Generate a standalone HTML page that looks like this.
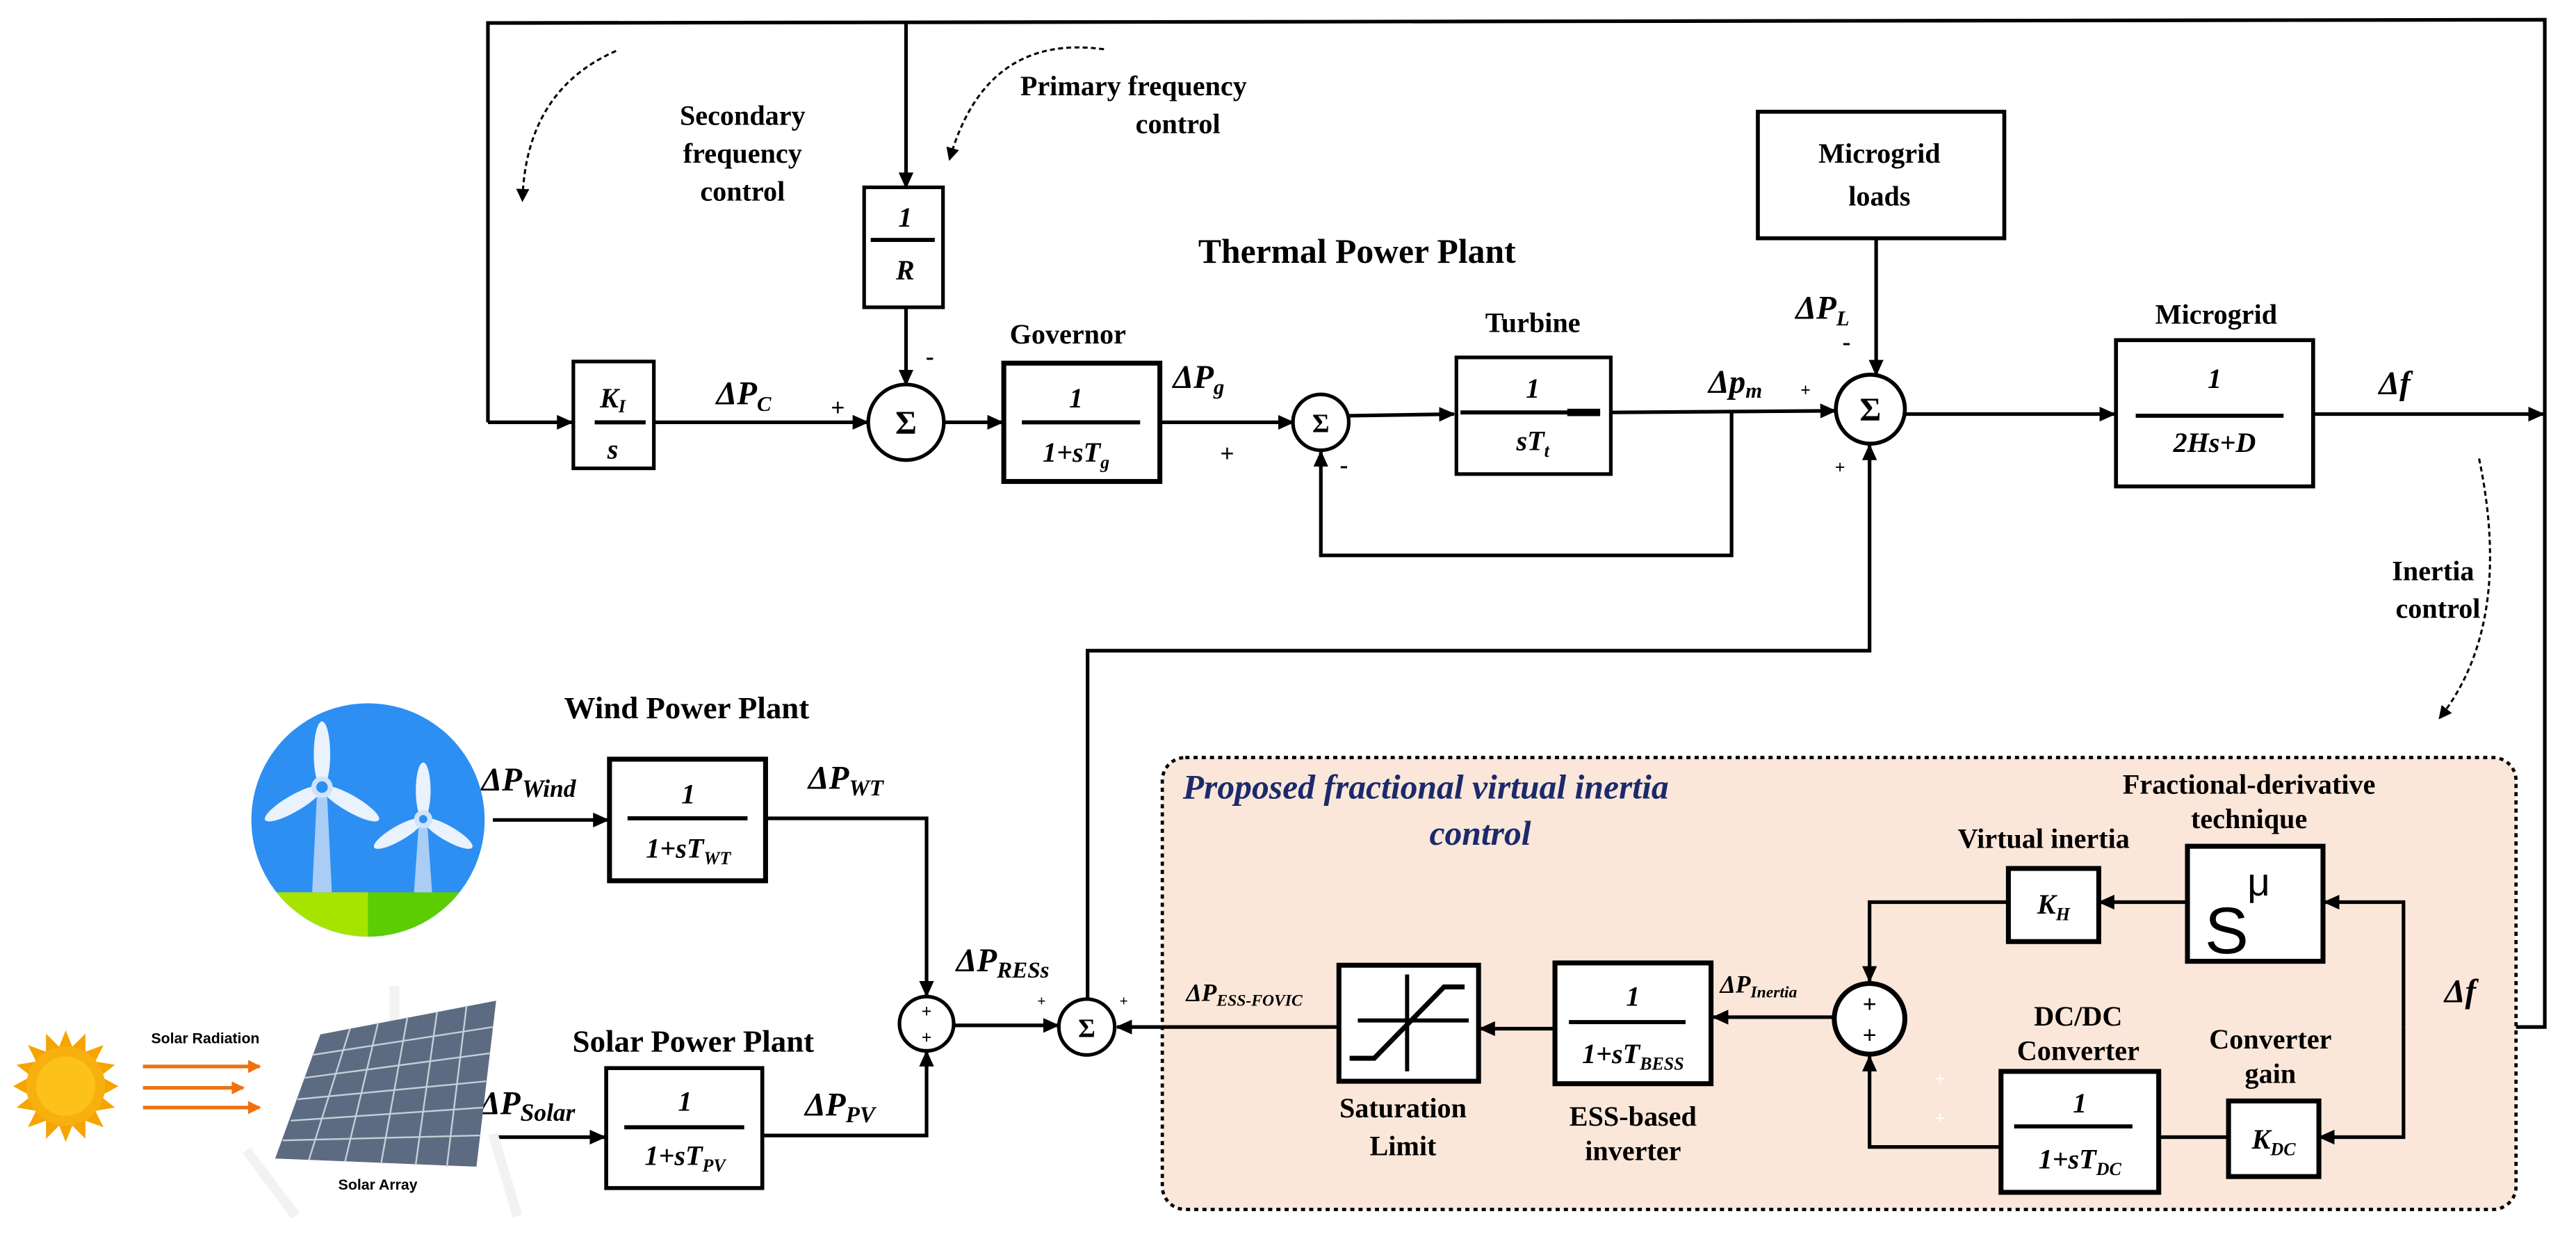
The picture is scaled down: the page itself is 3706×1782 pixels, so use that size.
<!DOCTYPE html>
<html><head><meta charset="utf-8">
<style>
html,body{margin:0;padding:0;background:#fff;}
svg{display:block;}
text{font-family:"Liberation Serif",serif;font-weight:bold;}
.lb{font-size:17px;}
.it{font-style:italic;}
</style></head>
<body>
<svg width="3706" height="1782" viewBox="0 0 1568 754" preserveAspectRatio="none" xmlns="http://www.w3.org/2000/svg">
<defs>
<marker id="a" markerWidth="10" markerHeight="10" refX="9" refY="5" orient="auto" markerUnits="userSpaceOnUse"><path d="M0,0.5 L10,5 L0,9.5 z" fill="#000"/></marker>
<marker id="s" markerWidth="8" markerHeight="8" refX="7" refY="4" orient="auto" markerUnits="userSpaceOnUse"><path d="M0,0 L8,4 L0,8 z" fill="#000"/></marker>
<marker id="o" markerWidth="8" markerHeight="8" refX="7" refY="4" orient="auto" markerUnits="userSpaceOnUse"><path d="M0,0 L8,4 L0,8 z" fill="#f07010"/></marker>
<clipPath id="wc"><circle cx="224" cy="499" r="71"/></clipPath>
</defs>

<g stroke="#000" stroke-width="2.2" fill="none">
<polyline points="297,257 297,14 1549,12 1549,625 1466,625" marker-end="url(#a)"/>
<line x1="297" y1="257" x2="348" y2="257" marker-end="url(#a)"/>
<line x1="551.5" y1="14" x2="551.5" y2="114" marker-end="url(#a)"/>
<line x1="551.5" y1="188" x2="551.5" y2="234" marker-end="url(#a)"/>
<line x1="398" y1="257" x2="528" y2="257" marker-end="url(#a)"/>
<line x1="575" y1="257" x2="610" y2="257" marker-end="url(#a)"/>
<line x1="706" y1="257" x2="787" y2="257" marker-end="url(#a)"/>
<line x1="821" y1="253" x2="885" y2="252" marker-end="url(#a)"/>
<line x1="980" y1="251" x2="1117" y2="250" marker-end="url(#a)"/>
<polyline points="1054,251 1054,338 804,338 804,275" marker-end="url(#a)"/>
<line x1="1142" y1="145" x2="1142" y2="228" marker-end="url(#a)"/>
<line x1="1159" y1="252" x2="1287" y2="252" marker-end="url(#a)"/>
<line x1="1409" y1="252" x2="1548" y2="252" marker-end="url(#a)"/>
<polyline points="662,608 662,396 1138,396 1138,271" marker-end="url(#a)"/>
<line x1="300" y1="499" x2="370" y2="499" marker-end="url(#a)"/>
<polyline points="466,498 564,498 564,606" marker-end="url(#a)"/>
<line x1="298" y1="692" x2="368" y2="692" marker-end="url(#a)"/>
<polyline points="464,691 564,691 564,640" marker-end="url(#a)"/>
<line x1="581" y1="624" x2="644" y2="624" marker-end="url(#a)"/>
</g>

<rect x="707.5" y="461" width="824" height="275" rx="14" fill="#fbe7d9" stroke="#000" stroke-width="2" stroke-dasharray="2.5,2.5"/>

<g stroke="#000" stroke-width="2.2" fill="none">
<line x1="815" y1="625" x2="680" y2="625" marker-end="url(#a)"/>
<polyline points="1463,625 1463,549 1415,549" marker-end="url(#a)"/>
<polyline points="1463,625 1463,692 1412,692" marker-end="url(#a)"/>
<line x1="1331" y1="549" x2="1278" y2="549" marker-end="url(#a)"/>
<polyline points="1222,549 1138,549 1138,597" marker-end="url(#a)"/>
<line x1="1356" y1="692" x2="1314" y2="692"/>
<polyline points="1218,698 1138,698 1138,643" marker-end="url(#a)"/>
<line x1="1117" y1="619" x2="1043" y2="619" marker-end="url(#a)"/>
<line x1="946" y1="626" x2="901" y2="626" marker-end="url(#a)"/>
</g>

<g stroke="#000" stroke-width="1.3" fill="none" stroke-dasharray="3,2">
<path d="M375,31 Q320,55 318,122" marker-end="url(#s)"/>
<path d="M672,30 Q600,20 578,97" marker-end="url(#s)"/>
<path d="M1509,279 Q1530,380 1485,437" marker-end="url(#s)"/>
</g>

<g stroke="#000" fill="#fff">
<rect x="349" y="220" width="49" height="65" stroke-width="2.2"/>
<rect x="526" y="114" width="48" height="73" stroke-width="2.2"/>
<rect x="611" y="221" width="95" height="72" stroke-width="3"/>
<rect x="886.5" y="217.5" width="94" height="71" stroke-width="2.2"/>
<rect x="1070" y="68" width="150" height="77" stroke-width="2.4"/>
<rect x="1288" y="207" width="120" height="89" stroke-width="2.4"/>
<rect x="371" y="462" width="95" height="74" stroke-width="3"/>
<rect x="369" y="650" width="95" height="73" stroke-width="2.4"/>
<rect x="1331.5" y="515" width="82.5" height="70" stroke-width="3"/>
<rect x="1222.5" y="528.5" width="55" height="44.5" stroke-width="3"/>
<rect x="1218" y="652" width="96" height="73.6" stroke-width="3"/>
<rect x="1356.5" y="670" width="55" height="46" stroke-width="3"/>
<rect x="946.5" y="586" width="95" height="73.5" stroke-width="3"/>
<rect x="815" y="587.4" width="85" height="70.6" stroke-width="3"/>
<circle cx="551.5" cy="257" r="23" stroke-width="2.2"/>
<circle cx="804" cy="257" r="17" stroke-width="2.2"/>
<circle cx="1138.5" cy="249" r="21" stroke-width="2.4"/>
<circle cx="564" cy="623" r="16.5" stroke-width="2.2"/>
<circle cx="661.5" cy="625" r="17" stroke-width="2.2"/>
<circle cx="1138" cy="620" r="21.5" stroke-width="3"/>
</g>
<g stroke="#000" stroke-width="2.5">
<line x1="362" y1="257" x2="393" y2="257"/>
<line x1="530" y1="146" x2="569" y2="146"/>
<line x1="622" y1="257" x2="694" y2="257"/>
<line x1="889" y1="251" x2="974" y2="251"/>
<line x1="954" y1="251" x2="974" y2="251" stroke-width="4.5"/>
<line x1="1300" y1="253" x2="1390" y2="253"/>
<line x1="382" y1="498" x2="455" y2="498"/>
<line x1="380" y1="686" x2="453" y2="686"/>
<line x1="1226" y1="685.5" x2="1298" y2="685.5"/>
<line x1="955" y1="622" x2="1026" y2="622"/>
<line x1="826.5" y1="621" x2="894" y2="621"/>
<line x1="856.5" y1="593" x2="856.5" y2="652"/>
<polyline points="821.5,644 836.5,644 879,600.6 891.5,600.6" fill="none" stroke-width="3"/>
</g>

<g class="lb" text-anchor="middle" fill="#000">
<text x="452" y="76">Secondary</text>
<text x="452" y="99">frequency</text>
<text x="452" y="122">control</text>
<text x="690" y="58">Primary frequency</text>
<text x="717" y="81">control</text>
<text x="826" y="160" style="font-size:21px">Thermal Power Plant</text>
<text x="650" y="209">Governor</text>
<text x="933" y="202">Turbine</text>
<text x="1144" y="99">Microgrid</text>
<text x="1144" y="125">loads</text>
<text x="1349" y="197">Microgrid</text>
<text x="1481" y="353">Inertia</text>
<text x="1484" y="376">control</text>
<text x="418" y="437" style="font-size:19px">Wind Power Plant</text>
<text x="422" y="640" style="font-size:19px">Solar Power Plant</text>
<text x="1369" y="483">Fractional-derivative</text>
<text x="1369" y="504">technique</text>
<text x="1244" y="516">Virtual inertia</text>
<text x="1265" y="624">DC/DC</text>
<text x="1265" y="645">Converter</text>
<text x="1382" y="638">Converter</text>
<text x="1382" y="659">gain</text>
<text x="854" y="680">Saturation</text>
<text x="854" y="703">Limit</text>
<text x="994" y="685">ESS-based</text>
<text x="994" y="706">inverter</text>
</g>

<g class="lb it" text-anchor="middle" fill="#000">
<text x="373" y="248">K<tspan font-size="11" dy="3">I</tspan></text>
<text x="373" y="279">s</text>
<text x="551" y="138">1</text>
<text x="551" y="170">R</text>
<text x="655" y="248">1</text>
<text x="655" y="281">1+sT<tspan font-size="11" dy="4">g</tspan></text>
<text x="933" y="242">1</text>
<text x="933" y="274">sT<tspan font-size="11" dy="4">t</tspan></text>
<text x="1348" y="236">1</text>
<text x="1348" y="275">2Hs+D</text>
<text x="419" y="489">1</text>
<text x="419" y="522">1+sT<tspan font-size="11" dy="4">WT</tspan></text>
<text x="417" y="676">1</text>
<text x="417" y="709">1+sT<tspan font-size="11" dy="4">PV</tspan></text>
<text x="994" y="612">1</text>
<text x="994" y="647">1+sT<tspan font-size="11" dy="4">BESS</tspan></text>
<text x="1266" y="677">1</text>
<text x="1266" y="711">1+sT<tspan font-size="11" dy="4">DC</tspan></text>
<text x="1250" y="556">K<tspan font-size="11" dy="4">H</tspan></text>
<text x="1384" y="699">K<tspan font-size="11" dy="4">DC</tspan></text>
</g>
<text x="1342" y="580" style="font-family:'Liberation Sans',sans-serif;font-weight:normal;font-size:40px" fill="#000">S</text>
<text x="1368" y="545" style="font-family:'Liberation Sans',sans-serif;font-weight:normal;font-size:24px" fill="#000">μ</text>
<text x="551.5" y="264" text-anchor="middle" style="font-size:20px">Σ</text>
<text x="804" y="263" text-anchor="middle" style="font-size:16px">Σ</text>
<text x="1138.5" y="256" text-anchor="middle" style="font-size:20px">Σ</text>
<text x="661.5" y="631" text-anchor="middle" style="font-size:16px">Σ</text>
<g style="font-family:'Liberation Sans',sans-serif;font-weight:normal" text-anchor="middle">
<text x="564" y="619" font-size="11">+</text><text x="564" y="635" font-size="11">+</text>
<text x="1138" y="616" font-size="15">+</text><text x="1138" y="635" font-size="15">+</text>
<text x="634" y="612" font-size="9">+</text><text x="684" y="612" font-size="9">+</text>
<text x="1181" y="660" font-size="11" style="fill:#fff">+</text><text x="1181" y="684" font-size="11" style="fill:#fff">+</text>
</g>

<g class="it" style="font-size:20px">
<text x="436" y="246">ΔP<tspan font-size="13" dy="4">C</tspan></text>
<text x="714" y="236">ΔP<tspan font-size="13" dy="4">g</tspan></text>
<text x="1040" y="239">Δp<tspan font-size="13" dy="3">m</tspan></text>
<text x="1093" y="194">ΔP<tspan font-size="13" dy="4">L</tspan></text>
<text x="1448" y="240">Δf</text>
<text x="1488" y="610">Δf</text>
<text x="293" y="481">ΔP<tspan font-size="15" dy="4">Wind</tspan></text>
<text x="492" y="480">ΔP<tspan font-size="14" dy="4">WT</tspan></text>
<text x="582" y="591">ΔP<tspan font-size="14" dy="4">RESs</tspan></text>
<text x="292" y="678">ΔP<tspan font-size="15" dy="4">Solar</tspan></text>
<text x="490" y="679">ΔP<tspan font-size="14" dy="4">PV</tspan></text>
<text x="722" y="609" style="font-size:15px">ΔP<tspan font-size="10" dy="3">ESS-FOVIC</tspan></text>
<text x="1047" y="604" style="font-size:15px">ΔP<tspan font-size="10" dy="3">Inertia</tspan></text>
</g>
<g style="font-size:15px" text-anchor="middle">
<text x="510" y="253">+</text><text x="566" y="222">-</text>
<text x="747" y="281">+</text><text x="818" y="288">-</text>
<text x="1099" y="241" style="font-size:11px">+</text><text x="1124" y="213">-</text>
<text x="1120" y="288" style="font-size:11px">+</text>
</g>
<text x="720" y="486" style="font-size:21px;font-style:italic;fill:#1a2a6c">Proposed fractional virtual inertia</text>
<text x="901" y="514" text-anchor="middle" style="font-size:21px;font-style:italic;fill:#1a2a6c">control</text>

<g clip-path="url(#wc)">
<rect x="150" y="425" width="150" height="150" fill="#2d8ff2"/>
<rect x="150" y="543" width="74" height="40" fill="#a6e400"/>
<rect x="224" y="543" width="80" height="40" fill="#5ccd00"/>
</g>
<g fill="#a9cdf5">
<polygon points="193,482 199,482 202,543 190,543"/>
<polygon points="255,500 260,500 263,543 252,543"/>
</g>
<g fill="#e9f2fd">
<ellipse cx="196" cy="459" rx="5" ry="20"/>
<ellipse cx="196" cy="459" rx="5" ry="20" transform="rotate(120 196 479)"/>
<ellipse cx="196" cy="459" rx="5" ry="20" transform="rotate(240 196 479)"/>
<ellipse cx="257.6" cy="481" rx="4.5" ry="17"/>
<ellipse cx="257.6" cy="481" rx="4.5" ry="17" transform="rotate(120 257.6 498.5)"/>
<ellipse cx="257.6" cy="481" rx="4.5" ry="17" transform="rotate(240 257.6 498.5)"/>
</g>
<circle cx="196" cy="479" r="5" fill="#2d8ff2" stroke="#cfe3fa" stroke-width="3"/>
<circle cx="257.6" cy="498.5" r="4" fill="#2d8ff2" stroke="#cfe3fa" stroke-width="3"/>

<polygon fill="#f6a400" points="40,627 44,637 52,629 52,640 63,636 58,646 70,648 61,655 72,661 61,667 70,674 58,676 63,686 52,682 52,693 44,685 40,695 36,685 28,693 28,682 17,686 22,676 10,674 19,667 8,661 19,655 10,648 22,646 17,636 28,640 28,629 36,637"/>
<circle cx="40" cy="661" r="24" fill="#f8b010"/>
<circle cx="40" cy="661" r="18" fill="#fcc21a"/>
<g stroke="#f07010" stroke-width="2.2" fill="none">
<line x1="87" y1="649" x2="158" y2="649" marker-end="url(#o)"/>
<line x1="87" y1="662" x2="148" y2="662" marker-end="url(#o)"/>
<line x1="87" y1="674" x2="158" y2="674" marker-end="url(#o)"/>
</g>
<text x="125" y="635" text-anchor="middle" style="font-family:'Liberation Sans',sans-serif;font-size:9px">Solar Radiation</text>
<g stroke="#f2f2f2" stroke-width="6" fill="none"><path d="M240,600 L240,640"/><path d="M150,700 L180,740"/><path d="M300,690 L315,740"/></g>
<polygon points="195,629.5 302,609 290,710 167.5,705" fill="#5d6b82"/>
<g stroke="#c8ced8" stroke-width="1">
<line x1="190" y1="642" x2="300" y2="625"/><line x1="185" y1="656" x2="298" y2="641"/>
<line x1="181" y1="669" x2="296" y2="658"/><line x1="177" y1="682" x2="294" y2="674"/>
<line x1="172" y1="694" x2="292" y2="691"/>
<line x1="213" y1="626" x2="188" y2="706"/><line x1="230" y1="623" x2="210" y2="707"/>
<line x1="248" y1="619" x2="232" y2="708"/><line x1="266" y1="616" x2="253" y2="709"/>
<line x1="284" y1="612" x2="272" y2="710"/>
</g>
<text x="230" y="724" text-anchor="middle" style="font-family:'Liberation Sans',sans-serif;font-size:9px">Solar Array</text>
</svg>
</body></html>
